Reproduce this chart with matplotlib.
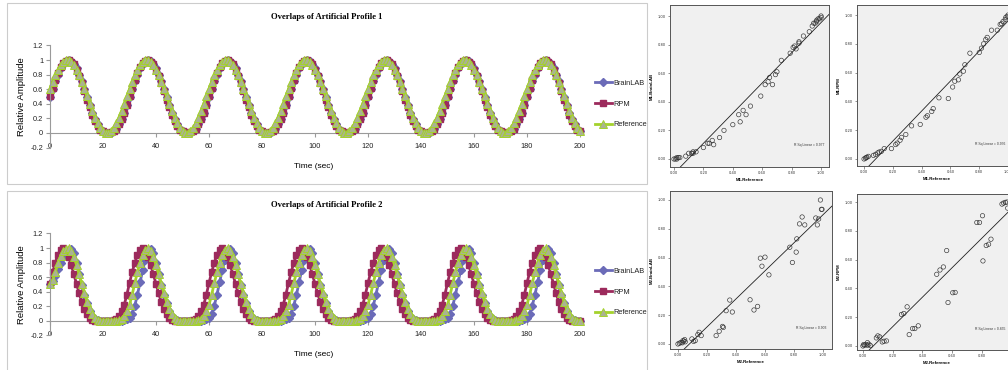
import numpy as np
import matplotlib
matplotlib.use('Agg')
import matplotlib.pyplot as plt
from matplotlib.patches import Rectangle
from matplotlib.ticker import FuncFormatter

W, H = 1008, 370

# seconds, one sample per second
time_sec = list(range(201))

# ---- artificial profile 1 ----
p1_brainlab = [
    0.49,0.6,0.71,0.8,0.89,0.95,0.99,1,0.99,0.95,0.89,0.8,0.71,0.6,0.49,0.38,0.28,0.19,0.12,0.06,0.02,0,0,0,0.02,0.06,0.12,0.19,0.28,0.38,
    0.49,0.6,0.71,0.8,0.89,0.95,0.99,1,0.99,0.95,0.89,0.8,0.71,0.6,0.49,0.38,0.28,0.19,0.12,0.06,0.02,0,0,0,0.02,0.06,0.12,0.19,0.28,0.38,
    0.49,0.6,0.71,0.8,0.89,0.95,0.99,1,0.99,0.95,0.89,0.8,0.71,0.6,0.49,0.38,0.28,0.19,0.12,0.06,0.02,0,0,0,0.02,0.06,0.12,0.19,0.28,0.38,
    0.49,0.6,0.71,0.8,0.89,0.95,0.99,1,0.99,0.95,0.89,0.8,0.71,0.6,0.49,0.38,0.28,0.19,0.12,0.06,0.02,0,0,0,0.02,0.06,0.12,0.19,0.28,0.38,
    0.49,0.6,0.71,0.8,0.89,0.95,0.99,1,0.99,0.95,0.89,0.8,0.71,0.6,0.49,0.38,0.28,0.19,0.12,0.06,0.02,0,0,0,0.02,0.06,0.12,0.19,0.28,0.38,
    0.49,0.6,0.71,0.8,0.89,0.95,0.99,1,0.99,0.95,0.89,0.8,0.71,0.6,0.49,0.38,0.28,0.19,0.12,0.06,0.02,0,0,0,0.02,0.06,0.12,0.19,0.28,0.38,
    0.49,0.6,0.71,0.8,0.89,0.95,0.99,1,0.99,0.95,0.89,0.8,0.71,0.6,0.49,0.38,0.28,0.19,0.12,0.06,0.02,
]
p1_rpm = [
    0.5,0.61,0.72,0.82,0.9,0.96,0.99,1,0.98,0.94,0.87,0.78,0.68,0.57,0.45,0.35,0.25,0.16,0.09,0.04,0.02,0,0,0.01,0.02,0.06,0.12,0.19,0.28,0.39,
    0.5,0.61,0.72,0.82,0.9,0.96,0.99,1,0.98,0.94,0.87,0.78,0.68,0.57,0.45,0.35,0.25,0.16,0.09,0.04,0.02,0,0,0.01,0.02,0.06,0.12,0.19,0.28,0.39,
    0.5,0.61,0.72,0.82,0.9,0.96,0.99,1,0.98,0.94,0.87,0.78,0.68,0.57,0.45,0.35,0.25,0.16,0.09,0.04,0.02,0,0,0.01,0.02,0.06,0.12,0.19,0.28,0.39,
    0.5,0.61,0.72,0.82,0.9,0.96,0.99,1,0.98,0.94,0.87,0.78,0.68,0.57,0.45,0.35,0.25,0.16,0.09,0.04,0.02,0,0,0.01,0.02,0.06,0.12,0.19,0.28,0.39,
    0.5,0.61,0.72,0.82,0.9,0.96,0.99,1,0.98,0.94,0.87,0.78,0.68,0.57,0.45,0.35,0.25,0.16,0.09,0.04,0.02,0,0,0.01,0.02,0.06,0.12,0.19,0.28,0.39,
    0.5,0.61,0.72,0.82,0.9,0.96,0.99,1,0.98,0.94,0.87,0.78,0.68,0.57,0.45,0.35,0.25,0.16,0.09,0.04,0.02,0,0,0.01,0.02,0.06,0.12,0.19,0.28,0.39,
    0.5,0.61,0.72,0.82,0.9,0.96,0.99,1,0.98,0.94,0.87,0.78,0.68,0.57,0.45,0.35,0.25,0.16,0.09,0.04,0.02,
]
p1_reference = [
    0.6,0.7,0.79,0.87,0.93,0.98,1,1,0.98,0.93,0.87,0.79,0.7,0.6,0.5,0.4,0.3,0.21,0.13,0.07,0.02,0,0,0.02,0.07,0.13,0.21,0.3,0.4,0.5,
    0.6,0.7,0.79,0.87,0.93,0.98,1,1,0.98,0.93,0.87,0.79,0.7,0.6,0.5,0.4,0.3,0.21,0.13,0.07,0.02,0,0,0.02,0.07,0.13,0.21,0.3,0.4,0.5,
    0.6,0.7,0.79,0.87,0.93,0.98,1,1,0.98,0.93,0.87,0.79,0.7,0.6,0.5,0.4,0.3,0.21,0.13,0.07,0.02,0,0,0.02,0.07,0.13,0.21,0.3,0.4,0.5,
    0.6,0.7,0.79,0.87,0.93,0.98,1,1,0.98,0.93,0.87,0.79,0.7,0.6,0.5,0.4,0.3,0.21,0.13,0.07,0.02,0,0,0.02,0.07,0.13,0.21,0.3,0.4,0.5,
    0.6,0.7,0.79,0.87,0.93,0.98,1,1,0.98,0.93,0.87,0.79,0.7,0.6,0.5,0.4,0.3,0.21,0.13,0.07,0.02,0,0,0.02,0.07,0.13,0.21,0.3,0.4,0.5,
    0.6,0.7,0.79,0.87,0.93,0.98,1,1,0.98,0.93,0.87,0.79,0.7,0.6,0.5,0.4,0.3,0.21,0.13,0.07,0.02,0,0,0.02,0.07,0.13,0.21,0.3,0.4,0.5,
    0.6,0.7,0.79,0.87,0.93,0.98,1,1,0.98,0.93,0.87,0.79,0.7,0.6,0.5,0.4,0.3,0.21,0.13,0.07,0.02,
]

# ---- artificial profile 2 ----
p2_brainlab = [
    0.5,0.55,0.62,0.71,0.8,0.88,0.94,0.98,0.99,0.93,0.8,0.64,0.49,0.36,0.24,0.14,0.07,0.03,0.01,0,0,0,0,0,0,0,0,0,0.01,0.02,
    0.04,0.1,0.21,0.36,0.53,0.7,0.84,0.94,0.99,0.93,0.8,0.64,0.49,0.36,0.24,0.14,0.07,0.03,0.01,0,0,0,0,0,0,0,0,0,0.01,0.02,
    0.04,0.1,0.21,0.36,0.53,0.7,0.84,0.94,0.99,0.93,0.8,0.64,0.49,0.36,0.24,0.14,0.07,0.03,0.01,0,0,0,0,0,0,0,0,0,0.01,0.02,
    0.04,0.1,0.21,0.36,0.53,0.7,0.84,0.94,0.99,0.93,0.8,0.64,0.49,0.36,0.24,0.14,0.07,0.03,0.01,0,0,0,0,0,0,0,0,0,0.01,0.02,
    0.04,0.1,0.21,0.36,0.53,0.7,0.84,0.94,0.99,0.93,0.8,0.64,0.49,0.36,0.24,0.14,0.07,0.03,0.01,0,0,0,0,0,0,0,0,0,0.01,0.02,
    0.04,0.1,0.21,0.36,0.53,0.7,0.84,0.94,0.99,0.93,0.8,0.64,0.49,0.36,0.24,0.14,0.07,0.03,0.01,0,0,0,0,0,0,0,0,0,0.01,0.02,
    0.04,0.1,0.21,0.36,0.53,0.7,0.84,0.94,0.99,0.93,0.8,0.64,0.49,0.36,0.24,0.14,0.07,0.03,0.01,0,0,
]
p2_rpm = [
    0.5,0.67,0.8,0.91,0.98,1,0.96,0.88,0.77,0.64,0.51,0.38,0.26,0.16,0.09,0.04,0.01,0,0,0,0,0,0,0,0.01,0.03,0.07,0.13,0.22,0.36,
    0.52,0.67,0.8,0.91,0.98,1,0.96,0.88,0.77,0.64,0.51,0.38,0.26,0.16,0.09,0.04,0.01,0,0,0,0,0,0,0,0.01,0.03,0.07,0.13,0.22,0.36,
    0.52,0.67,0.8,0.91,0.98,1,0.96,0.88,0.77,0.64,0.51,0.38,0.26,0.16,0.09,0.04,0.01,0,0,0,0,0,0,0,0.01,0.03,0.07,0.13,0.22,0.36,
    0.52,0.67,0.8,0.91,0.98,1,0.96,0.88,0.77,0.64,0.51,0.38,0.26,0.16,0.09,0.04,0.01,0,0,0,0,0,0,0,0.01,0.03,0.07,0.13,0.22,0.36,
    0.52,0.67,0.8,0.91,0.98,1,0.96,0.88,0.77,0.64,0.51,0.38,0.26,0.16,0.09,0.04,0.01,0,0,0,0,0,0,0,0.01,0.03,0.07,0.13,0.22,0.36,
    0.52,0.67,0.8,0.91,0.98,1,0.96,0.88,0.77,0.64,0.51,0.38,0.26,0.16,0.09,0.04,0.01,0,0,0,0,0,0,0,0.01,0.03,0.07,0.13,0.22,0.36,
    0.52,0.67,0.8,0.91,0.98,1,0.96,0.88,0.77,0.64,0.51,0.38,0.26,0.16,0.09,0.04,0.01,0,0,0,0,
]
p2_reference = [
    0.5,0.56,0.67,0.79,0.89,0.96,0.99,1,0.96,0.88,0.77,0.64,0.51,0.38,0.26,0.16,0.09,0.04,0.01,0,0,0,0,0,0,0,0.01,0.03,0.07,0.13,
    0.22,0.36,0.52,0.67,0.8,0.91,0.98,1,0.96,0.88,0.77,0.64,0.51,0.38,0.26,0.16,0.09,0.04,0.01,0,0,0,0,0,0,0,0.01,0.03,0.07,0.13,
    0.22,0.36,0.52,0.67,0.8,0.91,0.98,1,0.96,0.88,0.77,0.64,0.51,0.38,0.26,0.16,0.09,0.04,0.01,0,0,0,0,0,0,0,0.01,0.03,0.07,0.13,
    0.22,0.36,0.52,0.67,0.8,0.91,0.98,1,0.96,0.88,0.77,0.64,0.51,0.38,0.26,0.16,0.09,0.04,0.01,0,0,0,0,0,0,0,0.01,0.03,0.07,0.13,
    0.22,0.36,0.52,0.67,0.8,0.91,0.98,1,0.96,0.88,0.77,0.64,0.51,0.38,0.26,0.16,0.09,0.04,0.01,0,0,0,0,0,0,0,0.01,0.03,0.07,0.13,
    0.22,0.36,0.52,0.67,0.8,0.91,0.98,1,0.96,0.88,0.77,0.64,0.51,0.38,0.26,0.16,0.09,0.04,0.01,0,0,0,0,0,0,0,0.01,0.03,0.07,0.13,
    0.22,0.36,0.52,0.67,0.8,0.91,0.98,1,0.96,0.88,0.77,0.64,0.51,0.38,0.26,0.16,0.09,0.04,0.01,0,0,
]

# ---- scatter data (x = reference, y = system) ----
m1_ref_a = [0.00,0.01,0.02,0.02,0.03,0.04,0.08,0.10,0.12,0.13,0.13,0.15,0.20,0.23,0.24,0.26,0.27,0.31,0.34,0.40,0.44,0.45,0.47,0.49,0.52,
            0.59,0.62,0.64,0.65,0.67,0.69,0.70,0.73,0.79,0.81,0.82,0.83,0.85,0.85,0.88,0.92,0.94,0.95,0.96,0.97,0.97,0.98,0.99,1.00,1.00]
m1_brainlab = [0.00,0.00,0.00,0.01,0.01,0.01,0.02,0.04,0.04,0.04,0.05,0.05,0.08,0.11,0.11,0.13,0.10,0.15,0.20,0.24,0.31,0.26,0.34,0.31,0.37,
               0.44,0.52,0.54,0.57,0.52,0.59,0.61,0.69,0.74,0.78,0.79,0.77,0.82,0.81,0.86,0.89,0.93,0.95,0.95,0.96,0.97,0.98,0.98,0.99,1.00]
m1_ref_b = [0.00,0.01,0.015,0.02,0.03,0.065,0.08,0.095,0.105,0.12,0.14,0.19,0.22,0.23,0.25,0.26,0.29,0.33,0.39,0.43,0.44,0.47,0.48,
            0.52,0.585,0.615,0.63,0.655,0.665,0.69,0.70,0.735,0.80,0.815,0.83,0.845,0.855,0.885,0.925,0.945,0.955,0.965,0.98,0.985,0.995,1.00]
m1_rpm = [0.00,0.005,0.01,0.012,0.018,0.025,0.032,0.042,0.048,0.053,0.072,0.072,0.10,0.11,0.13,0.15,0.17,0.23,0.24,0.29,0.30,0.33,0.35,
          0.425,0.42,0.50,0.54,0.55,0.59,0.61,0.655,0.735,0.74,0.77,0.80,0.83,0.845,0.895,0.895,0.935,0.94,0.955,0.97,0.985,0.99,1.00]
m2_ref_a = [0.00,0.01,0.02,0.03,0.034,0.04,0.046,0.05,0.096,0.108,0.119,0.137,0.146,0.16,0.263,0.284,0.307,0.313,0.332,0.357,0.375,
            0.497,0.524,0.549,0.568,0.579,0.60,0.627,0.771,0.789,0.815,0.819,0.838,0.856,0.874,0.95,0.961,0.97,0.982,0.989,0.993]
m2_brainlab = [0.00,0.005,0.01,0.008,0.023,0.02,0.03,0.015,0.035,0.018,0.023,0.065,0.081,0.058,0.058,0.088,0.122,0.115,0.231,0.305,0.222,
               0.307,0.236,0.261,0.596,0.54,0.603,0.48,0.672,0.566,0.638,0.73,0.834,0.882,0.827,0.875,0.827,0.868,1.0,0.935,0.935]
m2_ref_b = [0.00,0.005,0.01,0.02,0.03,0.03,0.04,0.05,0.09,0.10,0.113,0.13,0.142,0.158,0.259,0.275,0.297,0.311,0.334,0.349,0.372,
            0.496,0.518,0.541,0.563,0.572,0.604,0.62,0.766,0.784,0.804,0.807,0.829,0.845,0.861,0.935,0.946,0.958,0.969,0.973]
m2_rpm = [0.00,0.01,0.005,0.01,0.023,0.005,0.012,0.003,0.056,0.07,0.063,0.028,0.033,0.035,0.219,0.226,0.272,0.079,0.121,0.121,0.14,
          0.498,0.528,0.549,0.663,0.302,0.37,0.372,0.858,0.858,0.905,0.591,0.698,0.707,0.742,0.986,0.993,0.998,1.0,0.958]

legend_names = ['BrainLAB', 'RPM', 'Reference']
line_ticks_x = [0, 20, 40, 60, 80, 100, 120, 140, 160, 180, 200]
line_ticks_y = [-0.2, 0, 0.2, 0.4, 0.6, 0.8, 1, 1.2]
scatter_ticks = [0.0, 0.2, 0.4, 0.6, 0.8, 1.0]

SANS = 'Liberation Sans'
SERIF = 'Liberation Serif'
AXIS_GRAY = '#9a9a9a'


def box(l, t, r, b):
    # pixel box -> figure fraction rect
    return [l / W, 1 - b / H, (r - l) / W, (b - t) / H]


def profile_chart(fig, top, title, brainlab, rpm, reference):
    fig.patches.append(Rectangle((7 / W, 1 - (top + 181) / H), 640 / W, 181 / H,
                                 transform=fig.transFigure, fill=False,
                                 ec='#cccccc', lw=0.8))
    ax = fig.add_axes(box(50, top + 42.5, 580, top + 144.5))
    ax.plot(time_sec, brainlab, color='#6b6bb8', lw=2.0, marker='D', ms=4.0,
            mfc='#6b6bb8', mec='#6b6bb8', clip_on=False, label=legend_names[0])
    ax.plot(time_sec, rpm, color='#9c2a5c', lw=2.0, marker='s', ms=3.8,
            mfc='#9c2a5c', mec='#9c2a5c', clip_on=False, label=legend_names[1])
    ax.plot(time_sec, reference, color='#a4d22c', lw=2.0, marker='^', ms=5.2,
            mfc='#aab392', mec='#a4d22c', mew=0.7, clip_on=False, label=legend_names[2])
    ax.set_xlim(0, 200)
    ax.set_ylim(-0.2, 1.2)
    ax.set_xticks(line_ticks_x)
    ax.set_yticks(line_ticks_y)
    ax.yaxis.set_major_formatter(FuncFormatter(lambda v, p: f'{v:g}'))
    for s in ['top', 'right', 'bottom']:
        ax.spines[s].set_visible(False)
    ax.spines['left'].set_color(AXIS_GRAY)
    ax.spines['left'].set_linewidth(0.8)
    ax.tick_params(axis='y', direction='out', length=3, width=0.8, color=AXIS_GRAY,
                   labelsize=5.3, pad=2, labelcolor='#222222')
    ax.tick_params(axis='x', length=0, labelsize=5.3, pad=-3, labelcolor='#222222')
    for lbl in ax.get_xticklabels() + ax.get_yticklabels():
        lbl.set_fontfamily(SANS)
    # horizontal axis crosses at 0
    sec = ax.secondary_xaxis(0.2 / 1.4)
    sec.set_xticks(line_ticks_x)
    sec.set_xticklabels([])
    sec.spines['bottom'].set_color(AXIS_GRAY)
    sec.spines['bottom'].set_linewidth(0.8)
    sec.tick_params(direction='out', length=3, width=0.8, color=AXIS_GRAY)

    fig.text(327 / W, 1 - (top + 14) / H, title, family=SERIF, weight='bold',
             size=6.2, ha='center', va='center')
    fig.text(314 / W, 1 - (top + 163) / H, 'Time (sec)', family=SANS,
             size=6, ha='center', va='center')
    fig.text(22 / W, 1 - (top + 94) / H, 'Relative Amplitude', family=SANS,
             size=6.8, rotation=90, ha='center', va='center')
    leg = ax.legend(loc='center left', bbox_to_anchor=(588 / W, 1 - (top + 101) / H),
                    bbox_transform=fig.transFigure, frameon=False, numpoints=1,
                    handlelength=2.3, handletextpad=0.3, labelspacing=1.85,
                    prop={'family': SANS, 'size': 5.3})
    for t in leg.get_texts():
        t.set_color('#222222')
    return ax


def scatter_panel(fig, rect, xlim, ylim, x, y, xlabel, ylabel, rsq, rsq_x=0.78):
    ax = fig.add_axes(rect)
    ax.set_facecolor('#f0f0f0')
    ax.scatter(x, y, s=10, facecolors='none', edgecolors='#303030', linewidths=0.45)
    k, b = np.polyfit(x, y, 1)
    xx = np.array(xlim)
    ax.plot(xx, k * xx + b, color='#202020', lw=0.6)
    ax.set_xlim(xlim)
    ax.set_ylim(ylim)
    ax.set_xticks(scatter_ticks)
    ax.set_yticks(scatter_ticks)
    fmt = FuncFormatter(lambda v, p: f'{v:.2f}')
    ax.xaxis.set_major_formatter(fmt)
    ax.yaxis.set_major_formatter(fmt)
    ax.tick_params(labelsize=2.6, length=1.8, width=0.4, pad=1, color='#404040',
                   labelcolor='#333333')
    for s in ax.spines.values():
        s.set_color('#555555')
        s.set_linewidth(0.7)
    ax.set_xlabel(xlabel, fontsize=3.2, fontweight='bold', family=SANS, labelpad=2.5)
    ax.set_ylabel(ylabel, fontsize=3.2, fontweight='bold', family=SANS, labelpad=3)
    ax.text(rsq_x, 0.135, f'R Sq Linear = {rsq}', transform=ax.transAxes,
            fontsize=2.4, family=SANS, ha='left', va='center', color='#333333')
    return ax


fig = plt.figure(figsize=(W / 100, H / 100), dpi=100)

profile_chart(fig, 3, 'Overlaps of Artificial Profile 1', p1_brainlab, p1_rpm, p1_reference)
profile_chart(fig, 191, 'Overlaps of Artificial Profile 2', p2_brainlab, p2_rpm, p2_reference)

scatter_panel(fig, box(670, 5, 829, 167), (-0.027, 1.054), (-0.056, 1.077),
              m1_ref_a, m1_brainlab, 'M1.Reference', 'M1.BrainLAB', '0.977')
scatter_panel(fig, box(857, 5, 1017, 166), (-0.049, 1.062), (-0.049, 1.07),
              m1_ref_b, m1_rpm, 'M1.Reference', 'M1.RPM', '0.976', rsq_x=0.74)
scatter_panel(fig, box(670, 191, 832, 349), (-0.055, 1.062), (-0.035, 1.0625),
              m2_ref_a, m2_brainlab, 'M2.Reference', 'M2.BrainLAB', '0.903')
scatter_panel(fig, box(857, 194, 1017, 350), (-0.04, 1.036), (-0.028, 1.056),
              m2_ref_b, m2_rpm, 'M2.Reference', 'M2.RPM', '0.855', rsq_x=0.74)

fig.savefig('out.png', dpi=100)
